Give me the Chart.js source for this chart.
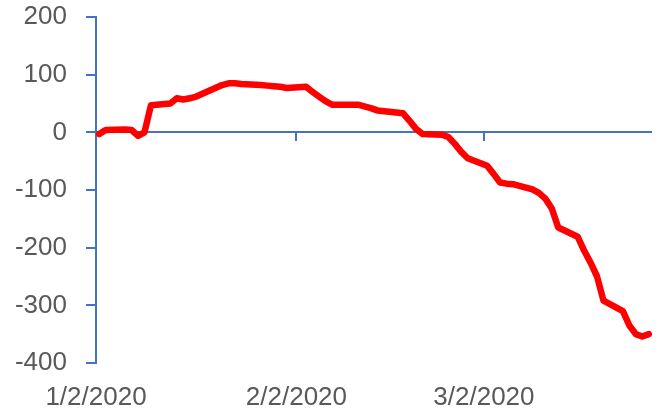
<!DOCTYPE html>
<html>
<head>
<meta charset="utf-8">
<script src="https://cdn.jsdelivr.net/npm/chart.js@4"></script>
<style>
  body { margin: 0; background: #fff; }
</style>
</head>
<body>
<canvas id="myChart" width="664" height="417"></canvas>
<script>
// trading days (m/d/yyyy) and the plotted value for each
const dates = [
  '1/2/2020', '1/3/2020', '1/6/2020', '1/7/2020', '1/8/2020', '1/9/2020', '1/10/2020',
  '1/13/2020', '1/14/2020', '1/15/2020', '1/16/2020', '1/17/2020',
  '1/21/2020', '1/22/2020', '1/23/2020', '1/24/2020',
  '1/27/2020', '1/28/2020', '1/29/2020', '1/30/2020', '1/31/2020',
  '2/3/2020', '2/4/2020', '2/5/2020', '2/6/2020', '2/7/2020',
  '2/10/2020', '2/11/2020', '2/12/2020', '2/13/2020', '2/14/2020',
  '2/18/2020', '2/19/2020', '2/20/2020', '2/21/2020',
  '2/24/2020', '2/25/2020', '2/26/2020', '2/27/2020', '2/28/2020',
  '3/2/2020', '3/3/2020', '3/4/2020', '3/5/2020', '3/6/2020',
  '3/9/2020', '3/10/2020', '3/11/2020', '3/12/2020', '3/13/2020',
  '3/16/2020', '3/17/2020', '3/18/2020', '3/19/2020', '3/20/2020',
  '3/23/2020', '3/24/2020', '3/25/2020', '3/26/2020', '3/27/2020'
];
const values = [
  -3, 4, 5, 4, -6, 0, 47,
  50, 59, 57, 59, 62,
  82, 85, 85, 84,
  82, 81, 80, 79, 77,
  79, 70, 62, 54, 48,
  48, 48, 45, 42, 38,
  33, 20, 6, -3,
  -4, -8, -20, -34, -45,
  -58, -72, -87, -89, -90,
  -99, -105, -115, -132, -165,
  -181, -205, -226, -250, -292,
  -310, -335, -350, -354, -350
];
const tickLabels = ['1/2/2020', '2/2/2020', '3/2/2020'];
const yTicks = [-400, -300, -200, -100, 0, 100, 200];

function dayIndex(s) {
  const [m, d, y] = s.split('/').map(Number);
  const [m0, d0, y0] = dates[0].split('/').map(Number);
  return Math.round((Date.UTC(y, m - 1, d) - Date.UTC(y0, m0 - 1, d0)) / 86400000);
}

const points = dates.map((d, i) => ({ x: dayIndex(d) + 0.5, y: values[i] }));
const tickDays = tickLabels.map(dayIndex);
const lastDay = dayIndex(dates[dates.length - 1]) + 1;

const axisBlue = '#4472C4';
const labelGray = '#595959';
const font = { family: 'Liberation Sans', size: 26 };

// horizontal axis line sits at 0, with the date tick marks hanging from it
const zeroAxis = {
  id: 'zeroAxis',
  beforeDatasetsDraw(chart) {
    const { ctx, scales: { x, y } } = chart;
    const y0 = Math.round(y.getPixelForValue(0));
    ctx.save();
    ctx.strokeStyle = axisBlue;
    ctx.lineWidth = 2;
    ctx.beginPath();
    ctx.moveTo(x.left, y0);
    ctx.lineTo(x.right, y0);
    tickDays.forEach(d => {
      const px = Math.round(x.getPixelForValue(d));
      ctx.moveTo(px, y0);
      ctx.lineTo(px, y0 + 9);
    });
    ctx.stroke();
    ctx.restore();
  }
};

const ctx = document.getElementById('myChart').getContext('2d');
new Chart(ctx, {
  type: 'line',
  data: {
    datasets: [{
      data: points,
      borderColor: '#FF0000',
      borderWidth: 6.5,
      borderJoinStyle: 'round',
      borderCapStyle: 'round',
      pointRadius: 0,
      tension: 0
    }]
  },
  options: {
    responsive: false,
    animation: false,
    layout: { autoPadding: false, padding: { left: 0, right: 12, top: 17, bottom: 0 } },
    plugins: { legend: { display: false }, tooltip: { enabled: false } },
    scales: {
      x: {
        type: 'linear',
        min: 0,
        max: lastDay,
        afterBuildTicks: s => { s.ticks = tickDays.map(v => ({ value: v })); },
        afterFit: s => { s.height = 54; s.paddingLeft = 0; s.paddingRight = 0; },
        ticks: {
          color: labelGray,
          font: font,
          padding: 19,
          maxRotation: 0,
          callback: (v) => tickLabels[tickDays.indexOf(v)]
        },
        grid: { display: false, drawTicks: false },
        border: { display: false }
      },
      y: {
        min: yTicks[0],
        max: yTicks[yTicks.length - 1],
        afterBuildTicks: s => { s.ticks = yTicks.map(v => ({ value: v })); },
        afterFit: s => { s.width = 96; s.paddingTop = 0; s.paddingBottom = 0; },
        ticks: { color: labelGray, font: font, padding: 19 },
        grid: { drawOnChartArea: false, color: axisBlue, lineWidth: 2, tickLength: 10 },
        border: { color: axisBlue, width: 2 }
      }
    }
  },
  plugins: [zeroAxis]
});
</script>
</body>
</html>
